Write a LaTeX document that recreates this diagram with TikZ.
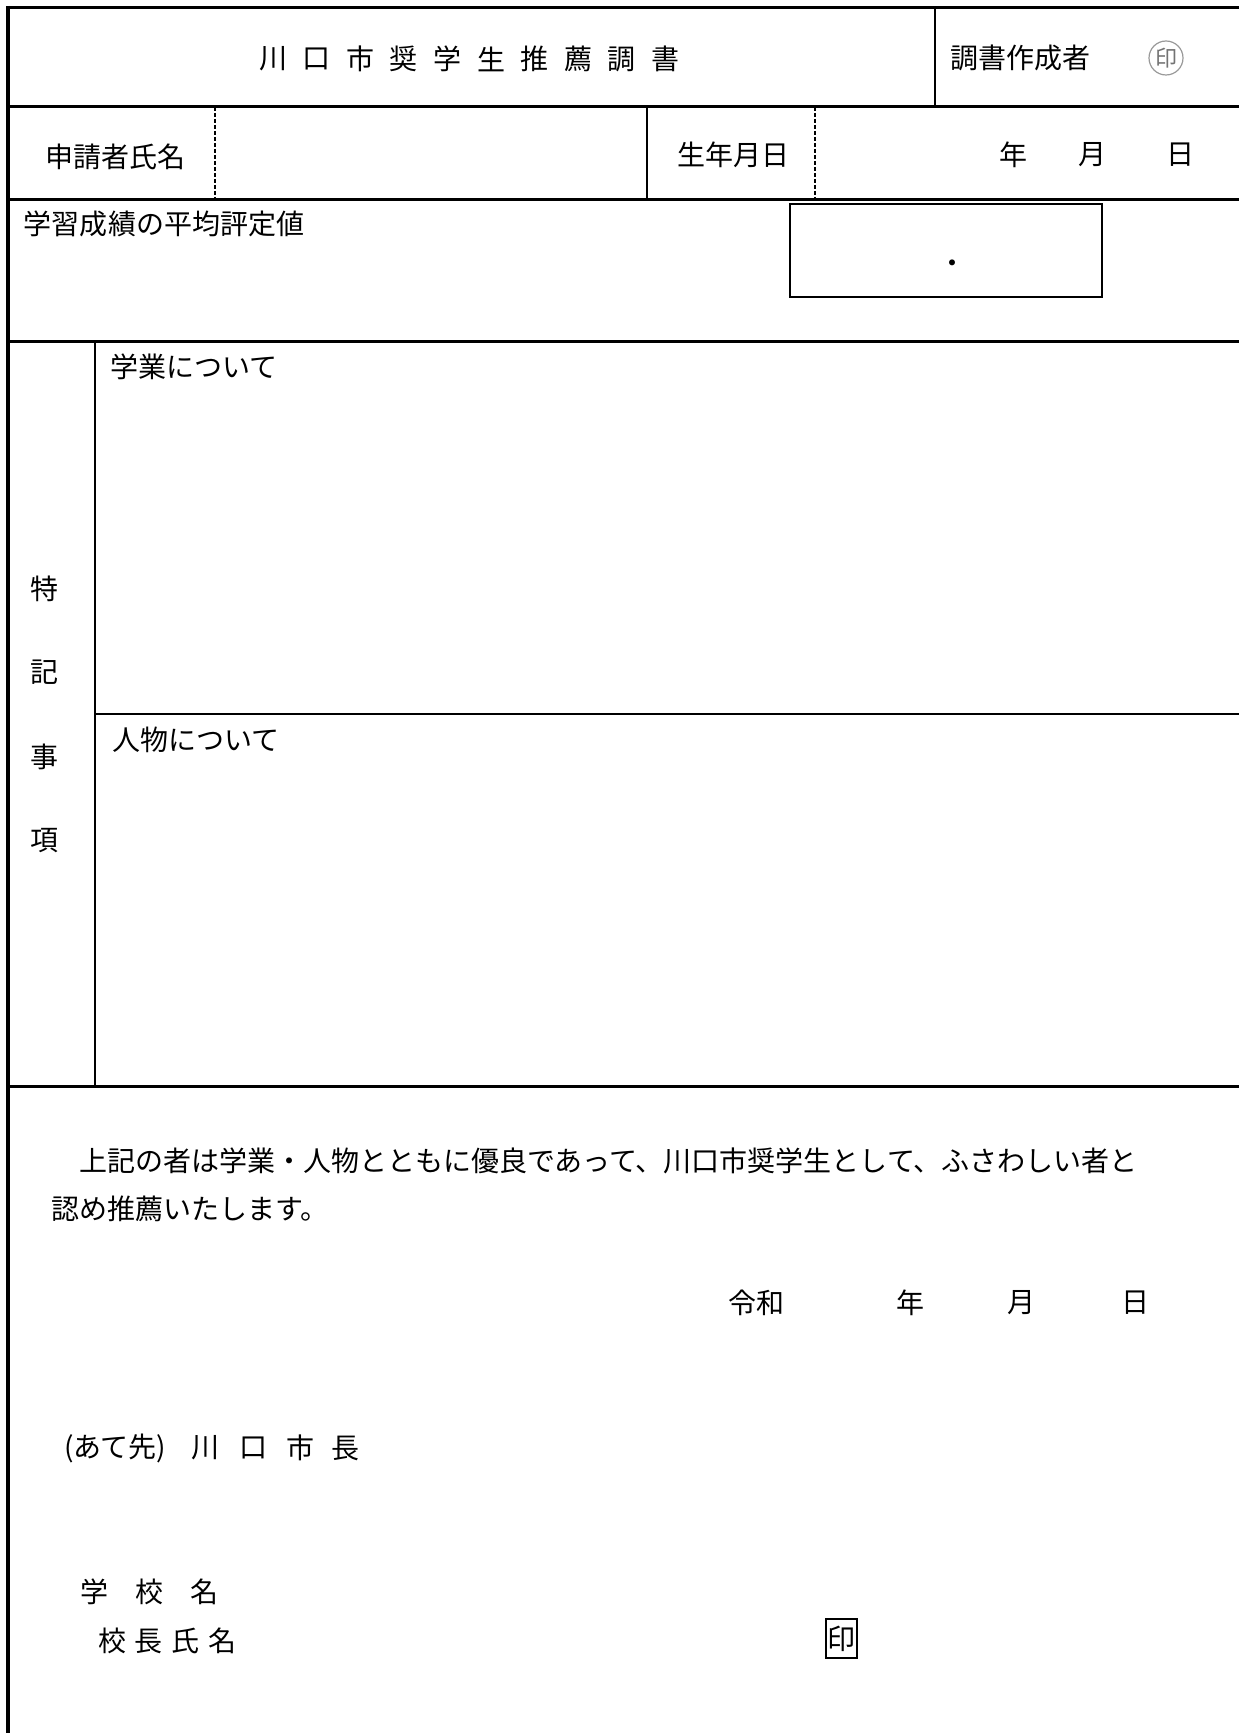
\documentclass[tikz,border=0pt]{standalone}
\usepackage{fontspec}
\setmainfont{Noto Sans CJK JP}
\begin{document}
\begin{tikzpicture}[x=0.5pt,y=-0.5pt,
  every node/.style={inner sep=0pt,outer sep=0pt,font=\fontsize{14pt}{16pt}\selectfont},
  thickline/.style={line width=1.5pt},
  borderline/.style={line width=2pt},
  thinline/.style={line width=0.6pt},
  midline/.style={line width=1pt},
  dashline/.style={line width=0.6pt,dash pattern=on 2pt off 1pt},
  lbl/.style={anchor=west},
  ch/.style={anchor=center}]
\useasboundingbox (0,0) rectangle (1239,1733);
% coordinates of the frame
\coordinate (tl) at (8.5,7.5);
\coordinate (tr) at (1239,7.5);
\coordinate (bt) at (7.5,6);
\coordinate (bl) at (7.5,1733);
\coordinate (r1l) at (8.5,107); \coordinate (r1r) at (1239,107);
\coordinate (r2l) at (8.5,200); \coordinate (r2r) at (1239,200);
\coordinate (r3l) at (8.5,342); \coordinate (r3r) at (1239,342);
\coordinate (r4l) at (95,714);  \coordinate (r4r) at (1239,714);
\coordinate (r5l) at (8.5,1086); \coordinate (r5r) at (1239,1086);
\coordinate (v1t) at (935,7.5);  \coordinate (v1b) at (935,107);
\coordinate (v2t) at (215,107);  \coordinate (v2b) at (215,200);
\coordinate (v3t) at (647,107);  \coordinate (v3b) at (647,200);
\coordinate (v4t) at (815,107);  \coordinate (v4b) at (815,200);
\coordinate (v5t) at (95,342);   \coordinate (v5b) at (95,1086);
% frame lines
\draw[thickline] (tl) -- (tr);
\draw[borderline] (bt) -- (bl);
\draw[thickline] (r1l) -- (r1r);
\draw[thickline] (r2l) -- (r2r);
\draw[thickline] (r3l) -- (r3r);
\draw[midline] (r4l) -- (r4r);
\draw[thickline] (r5l) -- (r5r);
\draw[thinline] (v1t) -- (v1b);
\draw[dashline] (v2t) -- (v2b);
\draw[thinline] (v3t) -- (v3b);
\draw[dashline] (v4t) -- (v4b);
\draw[thinline] (v5t) -- (v5b);
% title
\foreach \c [count=\i from 0] in {川,口,市,奨,学,生,推,薦,調,書}
  \node[ch] (t\i) at (273+43.6*\i,59) {\c};
\node[lbl] (author) at (950,58) {調書作成者};
\node[draw=gray!80,line width=0.6pt,circle,minimum size=17pt,text=gray!90!black,
      font=\fontsize{11pt}{11pt}\selectfont] (seal) at (1166,58) {印};
% row 2
\node[lbl] (applicant) at (45,157) {申請者氏名};
\node[lbl] (birth) at (677,155) {生年月日};
\node[ch] (by) at (1013,155) {年};
\node[ch] (bm) at (1092,155) {月};
\node[ch] (bd) at (1180,155) {日};
% row 3
\node[lbl] (grade) at (24,224) {学習成績の平均評定値};
\node[draw,line width=1.1pt,minimum width=156pt,minimum height=46.5pt,anchor=north west] (gbox) at (790,204) {};
\node[ch] (gdot) at (952,267) {・};
% special notes
\node[lbl] (study) at (110,367) {学業について};
\node[lbl] (person) at (112,740) {人物について};
\node[ch] (s1) at (45,589) {特};
\node[ch] (s2) at (45,672) {記};
\node[ch] (s3) at (45,757) {事};
\node[ch] (s4) at (45,841) {項};
% bottom part
\node[lbl] (p1) at (51,1161) {　上記の者は学業・人物とともに優良であって、川口市奨学生として、ふさわしい者と};
\node[lbl] (p2) at (51,1209) {認め推薦いたします。};
\node[lbl] (reiwa) at (728,1303) {令和};
\node[ch] (dy) at (910,1303) {年};
\node[ch] (dm) at (1021,1303) {月};
\node[ch] (dd) at (1135,1303) {日};
\node[lbl] (ate) at (64,1448) {(あて先)};
\node[ch] (m1) at (205,1448) {川};
\node[ch] (m2) at (253,1448) {口};
\node[ch] (m3) at (300,1448) {市};
\node[ch] (m4) at (345,1448) {長};
\node[ch] (sc1) at (94,1592) {学};
\node[ch] (sc2) at (149,1592) {校};
\node[ch] (sc3) at (204,1592) {名};
\node[ch] (pn1) at (112,1641) {校};
\node[ch] (pn2) at (148.7,1641) {長};
\node[ch] (pn3) at (185.3,1641) {氏};
\node[ch] (pn4) at (222,1641) {名};
\node[draw,line width=1pt,minimum width=15.5pt,minimum height=19.5pt] (stamp) at (841.5,1638.5) {印};
\end{tikzpicture}
\end{document}
